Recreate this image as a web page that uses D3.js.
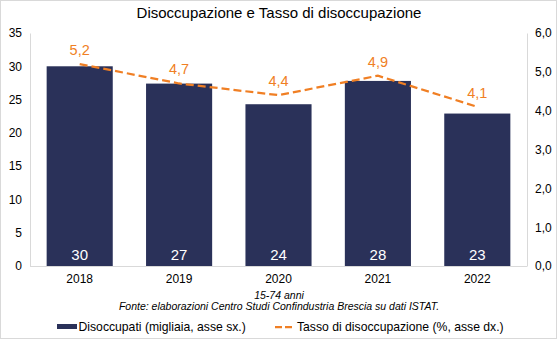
<!DOCTYPE html>
<html>
<head>
<meta charset="utf-8">
<script src="https://cdn.jsdelivr.net/npm/d3@7"></script>
<style>
  html, body { margin: 0; padding: 0; background: #fff; }
  svg { display: block; font-family: "Liberation Sans", Arial, sans-serif; }
</style>
</head>
<body>
<svg id="chart" width="559" height="341"></svg>
<script>
// Disoccupati (migliaia) e tasso di disoccupazione (%), Brescia 15-74 anni
const years = ["2018", "2019", "2020", "2021", "2022"];
const disoccupati = [30.0, 27.4, 24.3, 27.8, 22.9];
const tasso = [5.2, 4.7, 4.4, 4.9, 4.1];
const leftTicks = [0, 5, 10, 15, 20, 25, 30, 35];
const rightTicks = [0, 1, 2, 3, 4, 5, 6];

const W = 559, H = 341;
const m = { left: 30, right: 32, top: 33, bottom: 75 };
const svg = d3.select("#chart");

// outer frame
svg.append("rect")
  .attr("x", 0.5).attr("y", 0.5)
  .attr("width", W - 3).attr("height", H - 3)
  .attr("fill", "#fff").attr("stroke", "#d9d9d9");

const x = d3.scaleBand().domain(years).range([m.left, W - m.right]).paddingInner(0.335).paddingOuter(0.1675);
const yL = d3.scaleLinear().domain([0, 35]).range([H - m.bottom, m.top]);
const yR = d3.scaleLinear().domain([0, 6]).range([H - m.bottom, m.top]);

const navy = "#2a3159";
const orange = "#f07f24";
const fmt1 = d3.format(".1f");
const comma = v => fmt1(v).replace(".", ",");

// title
svg.append("text")
  .attr("x", 279).attr("y", 18)
  .attr("text-anchor", "middle")
  .attr("font-size", 15).attr("fill", "#000")
  .text("Disoccupazione e Tasso di disoccupazione");

// left axis
const axL = svg.append("g").attr("transform", `translate(${m.left},0)`)
  .call(d3.axisLeft(yL).tickValues(leftTicks).tickSize(0).tickPadding(8));
axL.select(".domain").attr("stroke", "#d9d9d9");
axL.selectAll("text").attr("font-size", 12).attr("fill", "#000")
  .attr("font-family", "Liberation Sans, Arial, sans-serif");

// right axis
const axR = svg.append("g").attr("transform", `translate(${W - m.right},0)`)
  .call(d3.axisRight(yR).tickValues(rightTicks).tickSize(0).tickPadding(8).tickFormat(comma));
axR.select(".domain").attr("stroke", "#d9d9d9");
axR.selectAll("text").attr("font-size", 12).attr("fill", "#000")
  .attr("font-family", "Liberation Sans, Arial, sans-serif");

// bars
svg.append("g").selectAll("rect").data(years).join("rect")
  .attr("x", d => x(d))
  .attr("y", (d, i) => yL(disoccupati[i]))
  .attr("width", x.bandwidth())
  .attr("height", (d, i) => yL(0) - yL(disoccupati[i]))
  .attr("fill", navy);

// baseline
svg.append("line")
  .attr("x1", m.left).attr("x2", W - m.right)
  .attr("y1", yL(0) + 0.5).attr("y2", yL(0) + 0.5)
  .attr("stroke", "#d9d9d9");

// bar value labels
svg.append("g").selectAll("text").data(years).join("text")
  .attr("x", d => x(d) + x.bandwidth() / 2)
  .attr("y", yL(0) - 6)
  .attr("text-anchor", "middle")
  .attr("font-size", 15).attr("fill", "#fff")
  .text((d, i) => d3.format(".0f")(disoccupati[i]));

// x axis labels
svg.append("g").selectAll("text").data(years).join("text")
  .attr("x", d => x(d) + x.bandwidth() / 2)
  .attr("y", yL(0) + 17)
  .attr("text-anchor", "middle")
  .attr("font-size", 12).attr("fill", "#000")
  .text(d => d);

// rate line
const line = d3.line()
  .x((d, i) => x(years[i]) + x.bandwidth() / 2)
  .y(d => yR(d));
svg.append("path")
  .datum(tasso)
  .attr("d", line)
  .attr("fill", "none")
  .attr("stroke", orange)
  .attr("stroke-width", 2.25)
  .attr("stroke-dasharray", "8,4");

// rate labels
svg.append("g").selectAll("text").data(tasso).join("text")
  .attr("x", (d, i) => x(years[i]) + x.bandwidth() / 2)
  .attr("y", d => yR(d) - 9)
  .attr("text-anchor", "middle")
  .attr("font-size", 14.5).attr("fill", orange)
  .text(d => comma(d));

// notes
svg.append("text")
  .attr("x", 279).attr("y", 299)
  .attr("text-anchor", "middle").attr("font-style", "italic")
  .attr("font-size", 10.5).attr("fill", "#000")
  .text("15-74 anni");
svg.append("text")
  .attr("x", 279).attr("y", 310)
  .attr("text-anchor", "middle").attr("font-style", "italic")
  .attr("font-size", 10.5).attr("fill", "#000")
  .text("Fonte: elaborazioni Centro Studi Confindustria Brescia su dati ISTAT.");

// legend
const lg = svg.append("g").attr("font-size", 12.2).attr("fill", "#000");
lg.append("rect").attr("x", 57).attr("y", 324).attr("width", 20).attr("height", 5).attr("fill", navy);
lg.append("text").attr("x", 78.5).attr("y", 330.5).text("Disoccupati (migliaia, asse sx.)");
lg.append("line").attr("x1", 275).attr("x2", 292).attr("y1", 327).attr("y2", 327)
  .attr("stroke", orange).attr("stroke-width", 2.25).attr("stroke-dasharray", "7,3");
lg.append("text").attr("x", 297).attr("y", 330.5).text("Tasso di disoccupazione (%, asse dx.)");
</script>
</body>
</html>
